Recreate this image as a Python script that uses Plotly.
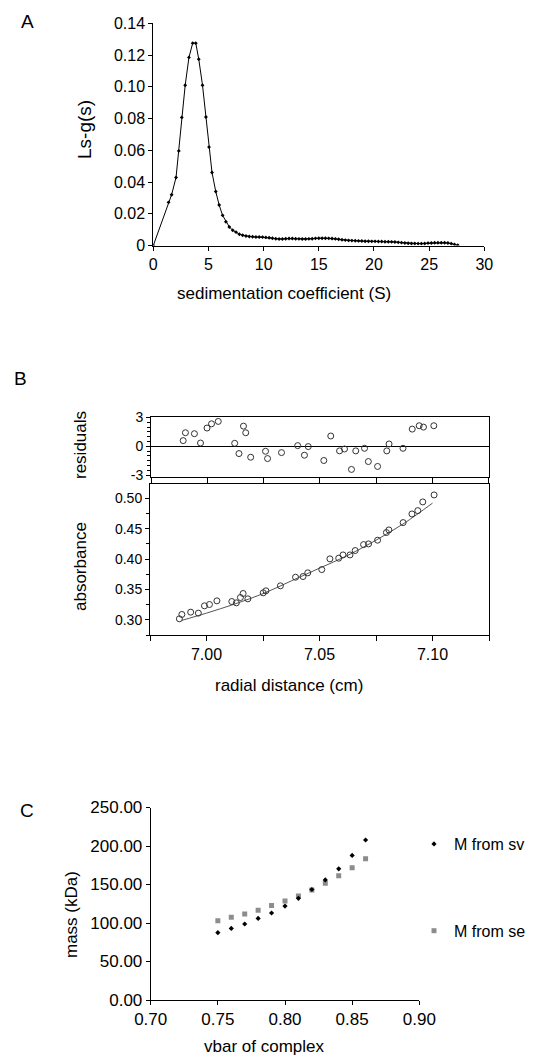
import plotly.graph_objects as go

W, H = 533, 1057

# ---- panel A: ls-g(s) distribution
sed_s = [0, 1.38, 1.66, 2.06, 2.31, 2.58, 2.89, 3.23, 3.57, 3.85, 4.12, 4.46,
         4.77, 5.05, 5.32, 5.66, 5.97, 6.28, 6.58, 6.89, 7.2, 7.5, 7.8, 8.1,
         8.4, 8.7, 9.0, 9.3, 9.6, 9.9, 10.2, 10.5, 10.8, 11.1, 11.4, 11.7,
         12.0, 12.3, 12.6, 12.9, 13.2, 13.5, 13.8, 14.1, 14.4, 14.7, 15.0,
         15.3, 15.6, 15.9, 16.2, 16.5, 16.8, 17.1, 17.4, 17.7, 18.0, 18.3,
         18.6, 18.9, 19.2, 19.5, 19.8, 20.1, 20.4, 20.7, 21.0, 21.3, 21.6,
         21.9, 22.2, 22.5, 22.8, 23.1, 23.4, 23.7, 24.0, 24.3, 24.6, 24.9,
         25.2, 25.5, 25.8, 26.1, 26.4, 26.7, 27.0, 27.3, 27.6]
lsg = [0, 0.0272, 0.032, 0.0428, 0.0596, 0.0807, 0.101, 0.1185, 0.1275,
       0.1275, 0.1174, 0.101, 0.081, 0.062, 0.046, 0.034, 0.0255, 0.019,
       0.015, 0.0117, 0.0096, 0.0084, 0.0071, 0.0065,
       0.0060, 0.0057, 0.0055, 0.0054, 0.0054, 0.0053, 0.0051, 0.0049,
       0.0046, 0.0043, 0.0041, 0.0041, 0.0043, 0.0044, 0.0044, 0.0043,
       0.0042, 0.0041, 0.0041, 0.0042, 0.0043, 0.0045, 0.0046, 0.0046,
       0.0046, 0.0045, 0.0044, 0.0042, 0.0039, 0.0036, 0.0034, 0.0032,
       0.0031, 0.0030, 0.0029, 0.0028, 0.0027, 0.0027, 0.0026, 0.0026,
       0.0025, 0.0025, 0.0024, 0.0024, 0.0023, 0.0022, 0.0020, 0.0018,
       0.0016, 0.0014, 0.0013, 0.0013, 0.0012, 0.0012, 0.0013, 0.0015,
       0.0016, 0.0017, 0.0017, 0.0017, 0.0017, 0.0016, 0.0012, 0.0006,
       0.0002]

# ---- panel B: sedimentation equilibrium
resid_r = [6.9893, 6.9903, 6.9943, 6.997, 6.9999, 7.0019, 7.0049, 7.0122,
           7.0141, 7.0161, 7.0171, 7.0193, 7.0259, 7.0268, 7.033, 7.0402,
           7.0432, 7.0449, 7.0518, 7.0549, 7.0588, 7.061, 7.0641, 7.066,
           7.0699, 7.0716, 7.0757, 7.0798, 7.0808, 7.087, 7.0911, 7.0942,
           7.0961, 7.1007]
residuals = [0.59, 1.41, 1.31, 0.34, 1.9, 2.34, 2.59, 0.31, -0.76, 2.1,
             1.41, -1.14, -0.52, -1.28, -0.66, 0.07, -0.93, -0.03, -1.48,
             1.07, -0.48, -0.28, -2.41, -0.48, -0.21, -1.59, -2.1, -0.48,
             0.24, -0.21, 1.79, 2.14, 2.0, 2.14]
abs_r = [6.988, 6.9891, 6.993, 6.9964, 6.9991, 7.0013, 7.0046, 7.0112,
         7.0132, 7.015, 7.0162, 7.0183, 7.0251, 7.0263, 7.0327, 7.0394,
         7.0427, 7.0448, 7.051, 7.0546, 7.0585, 7.0604, 7.0635, 7.0658,
         7.0695, 7.0717, 7.0757, 7.0796, 7.0807, 7.087, 7.0909, 7.0935,
         7.0957, 7.1007]
absorbance = [0.3016, 0.3088, 0.3126, 0.311, 0.323, 0.3252, 0.3312, 0.3301,
              0.3279, 0.3367, 0.3433, 0.3345, 0.3444, 0.3477, 0.3559, 0.3701,
              0.3712, 0.3773, 0.3827, 0.4003, 0.4014, 0.4068, 0.4068, 0.414,
              0.4238, 0.4249, 0.431, 0.4436, 0.4479, 0.46, 0.4742, 0.4797,
              0.494, 0.5055]
fit_r = [6.989, 7.00, 7.0125, 7.025, 7.0375, 7.05, 7.0625, 7.075, 7.0875, 7.10]
fit_abs = [0.299, 0.311, 0.326, 0.343, 0.364, 0.385, 0.406, 0.431, 0.459, 0.492]

# ---- panel C: mass vs partial specific volume
vbar = [0.75, 0.76, 0.77, 0.78, 0.79, 0.80, 0.81, 0.82, 0.83, 0.84, 0.85, 0.86]
m_sv = [87.4, 93.0, 98.7, 106.0, 113.0, 122.0, 132.0, 143.5, 156.0, 170.4,
        187.8, 207.8]
m_se = [103.0, 107.4, 111.7, 116.5, 122.6, 128.7, 135.2, 143.0, 151.7,
        161.3, 171.7, 183.5]

FONT = "Liberation Sans, Arial, sans-serif"


def dx(a, b):
    return [a / W, b / W]


def dy(top, bottom):
    return [1 - bottom / H, 1 - top / H]


fig = go.Figure()

fig.add_trace(go.Scatter(x=sed_s, y=lsg, mode="lines+markers",
                         line=dict(color="black", width=1),
                         marker=dict(symbol="diamond", size=3, color="black"),
                         xaxis="x", yaxis="y", showlegend=False))

fig.add_trace(go.Scatter(x=resid_r, y=residuals, mode="markers",
                         marker=dict(symbol="circle-open", size=6,
                                     color="#333333", line=dict(width=1)),
                         xaxis="x2", yaxis="y2", showlegend=False))

fig.add_trace(go.Scatter(x=fit_r, y=fit_abs, mode="lines",
                         line=dict(color="#555555", width=1, shape="spline"),
                         xaxis="x3", yaxis="y3", showlegend=False))
fig.add_trace(go.Scatter(x=abs_r, y=absorbance, mode="markers",
                         marker=dict(symbol="circle-open", size=6,
                                     color="#333333", line=dict(width=1)),
                         xaxis="x3", yaxis="y3", showlegend=False))

fig.add_trace(go.Scatter(x=vbar, y=m_se, mode="markers", name="M from se",
                         marker=dict(symbol="square", size=5, color="#8c8c8c"),
                         xaxis="x4", yaxis="y4", legendgroup="se",
                         legendrank=2))
fig.add_trace(go.Scatter(x=vbar, y=m_sv, mode="markers", name="M from sv",
                         marker=dict(symbol="diamond", size=4, color="black"),
                         xaxis="x4", yaxis="y4", legendgroup="sv",
                         legendrank=1))

axis_common = dict(showline=True, linecolor="black", linewidth=1,
                   ticks="outside", ticklen=4, tickcolor="black",
                   showgrid=False, zeroline=False,
                   tickfont=dict(family=FONT, size=16, color="black"))

r_ticks = [6.975, 7.0, 7.025, 7.05, 7.075, 7.1, 7.125]
r_text = ["", "7.00", "", "7.05", "", "7.10", ""]

fig.update_layout(
    width=W, height=H,
    margin=dict(l=0, r=0, t=0, b=0, autoexpand=False),
    paper_bgcolor="white", plot_bgcolor="white",
    font=dict(family=FONT, size=16, color="black"),
    # A
    xaxis=dict(axis_common, domain=dx(153.3, 484.3), range=[0, 30],
               tickvals=[0, 5, 10, 15, 20, 25, 30], anchor="y"),
    yaxis=dict(axis_common, domain=dy(23.3, 245.5), range=[0, 0.14],
               tickvals=[0, 0.02, 0.04, 0.06, 0.08, 0.10, 0.12, 0.14],
               ticktext=["0", "0.02", "0.04", "0.06", "0.08", "0.10",
                         "0.12", "0.14"], anchor="x"),
    # B residuals
    xaxis2=dict(axis_common, domain=dx(151, 488.5), range=[6.975, 7.125],
                tickvals=r_ticks, showticklabels=False, mirror=True,
                ticklen=5, anchor="y2"),
    yaxis2=dict(axis_common, domain=dy(417, 477), range=[-3.2, 3.05],
                tickvals=[-3, 0, 3], ticktext=["-3", "0", "3"], mirror=True,
                zeroline=True, zerolinecolor="black", zerolinewidth=1,
                tickfont=dict(family=FONT, size=14, color="black"),
                minor=dict(dtick=0.5, ticklen=3, tickcolor="black",
                           ticks="outside"), anchor="x2"),
    # B absorbance
    xaxis3=dict(axis_common, domain=dx(150, 489), range=[6.975, 7.125],
                tickvals=r_ticks, ticktext=r_text, mirror=True, ticklen=5,
                anchor="y3"),
    yaxis3=dict(axis_common, domain=dy(484.3, 635), range=[0.275, 0.523],
                tickvals=[0.30, 0.35, 0.40, 0.45, 0.50],
                ticktext=["0.30", "0.35", "0.40", "0.45", "0.50"],
                mirror=True,
                tickfont=dict(family=FONT, size=14, color="black"),
                minor=dict(dtick=0.025, tick0=0.3, ticklen=3,
                           tickcolor="black", ticks="outside"), anchor="x3"),
    # C
    xaxis4=dict(axis_common, domain=dx(150.7, 419.3), range=[0.70, 0.90],
                tickvals=[0.70, 0.75, 0.80, 0.85, 0.90], tickformat=".2f",
                tickfont=dict(family=FONT, size=17, color="black"),
                anchor="y4"),
    yaxis4=dict(axis_common, domain=dy(807.5, 1000), range=[0, 250],
                tickvals=[0, 50, 100, 150, 200, 250], tickformat=".2f",
                tickfont=dict(family=FONT, size=17, color="black"),
                anchor="x4"),
    legend=dict(x=414 / W, y=1 - 827 / H, xanchor="left", yanchor="top",
                traceorder="grouped", tracegroupgap=63,
                font=dict(family=FONT, size=16, color="black"),
                bgcolor="rgba(0,0,0,0)"),
)

annotations = [
    # panel letters
    ("A", 27, 21.7, 0, 19),
    ("B", 20, 378, 0, 19),
    ("C", 27, 810, 0, 19),
    # axis titles
    ("Ls-g(s)", 84, 130, -90, 19),
    ("sedimentation coefficient (S)", 284, 293, 0, 17),
    ("residuals", 80, 445, -90, 17),
    ("absorbance", 80, 567, -90, 17),
    ("radial distance (cm)", 289, 685, 0, 17),
    ("mass (kDa)", 71, 915, -90, 17),
    ("vbar of complex", 264, 1046, 0, 17),
]
for text, px, py, ang, size in annotations:
    fig.add_annotation(text=text, x=px / W, y=1 - py / H, xref="paper",
                       yref="paper", showarrow=False, textangle=ang,
                       xanchor="center", yanchor="middle",
                       font=dict(family=FONT, size=size, color="black"))

# drop the browser's default 8px body margin so the figure sits at (0, 0)
fig.write_html("out.html", config={"displayModeBar": False},
               post_script="document.body.style.margin='0';"
                           "document.body.style.overflow='hidden';")
